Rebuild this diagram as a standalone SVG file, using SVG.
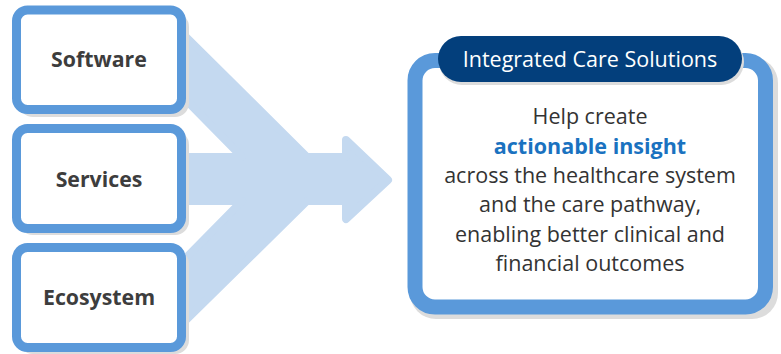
<svg xmlns="http://www.w3.org/2000/svg" width="781" height="354" viewBox="0 0 781 354">
<style>
.box{fill:#ffffff;stroke:#5a99da;stroke-width:9}
.shadow{fill:#dcdcdc}
.lbl{font-family:"Open Sans","Liberation Sans",sans-serif;font-weight:bold;font-size:21.3px;fill:#3d3d3d;text-anchor:middle}
.body{font-family:"Open Sans","Liberation Sans",sans-serif;font-size:21.5px;fill:#333333;text-anchor:middle}
.hl{font-weight:bold;fill:#1a72c0}
.title{font-family:"Open Sans","Liberation Sans",sans-serif;font-size:21.5px;fill:#ffffff;text-anchor:middle}
</style>
<rect width="781" height="354" fill="#ffffff"/>
<g id="connectors">
<polygon points="180,31 307,157 346,157 346,140 388,180 346,219 346,201 307,201 180,326 180,264 242,201 180,201 180,157 242,157 180,94" fill="#c4d9f0" stroke="#c4d9f0" stroke-width="8" stroke-linejoin="round"/>
</g>
<g id="node-software">
<rect class="shadow" x="19" y="13" width="170" height="104" rx="14"/>
<rect class="box" x="16.5" y="10" width="165" height="99.5" rx="11"/>
<text class="lbl" x="99" y="67">Software</text>
</g>
<g id="node-services">
<rect class="shadow" x="19" y="131" width="170" height="104" rx="14"/>
<rect class="box" x="16.5" y="128.5" width="165" height="100" rx="11"/>
<text class="lbl" x="99" y="187">Services</text>
</g>
<g id="node-ecosystem">
<rect class="shadow" x="19" y="250" width="170" height="104" rx="14"/>
<rect class="box" x="16.5" y="247.5" width="165" height="100" rx="11"/>
<text class="lbl" x="99" y="305">Ecosystem</text>
</g>
<g id="node-ics">
<rect class="shadow" x="410" y="57" width="368" height="262" rx="26"/>
<rect x="415" y="60.5" width="350.5" height="246.5" rx="20" fill="#ffffff" stroke="#5a99da" stroke-width="15"/>
<rect class="shadow" x="439" y="39" width="305" height="46" rx="23"/>
<rect x="438" y="36" width="304" height="46" rx="23" fill="#033f7c"/>
<text class="title" x="590" y="67">Integrated Care Solutions</text>
<text class="body" x="590" y="124">Help create</text>
<text class="body hl" x="590" y="154">actionable insight</text>
<text class="body" x="590" y="183">across the healthcare system</text>
<text class="body" x="590" y="212">and the care pathway,</text>
<text class="body" x="590" y="242">enabling better clinical and</text>
<text class="body" x="590" y="271">financial outcomes</text>
</g>
</svg>
